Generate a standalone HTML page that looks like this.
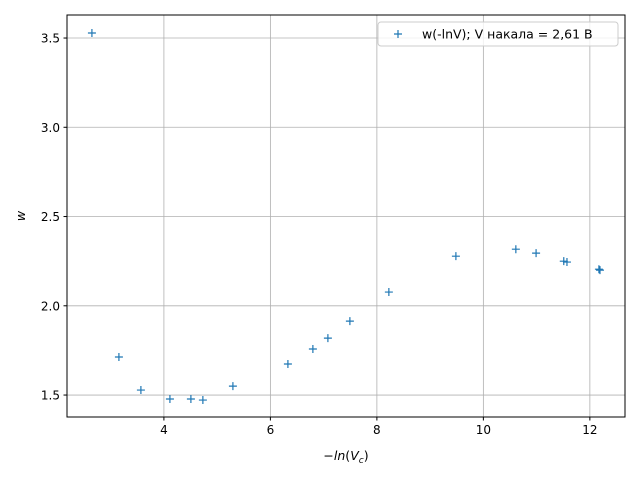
<!DOCTYPE html>
<html><head><meta charset="utf-8"><style>
body{margin:0;background:#fff;}
svg{display:block;font-family:"DejaVu Sans","Liberation Sans",sans-serif;}
</style></head><body>
<svg id="chart" width="640" height="480">
<rect x="0" y="0" width="640" height="480" fill="#fff"/>
<g id="grid"></g><g id="ticks"></g><g id="marks"></g>
<rect x="67" y="15" width="558" height="402" fill="none" stroke="#000" stroke-width="1"/>
<text x="346" y="460" font-size="12.5" text-anchor="middle">−<tspan font-style="italic">ln</tspan>(<tspan font-style="italic">V</tspan><tspan font-style="italic" font-size="9" dy="3">c</tspan><tspan dy="-3">)</tspan></text>
<text x="25" y="216" font-size="12.5" font-style="italic" text-anchor="middle" transform="rotate(-90 25 216)">w</text>
<g>
<rect x="378" y="22" width="240" height="24" rx="3" fill="#fff" fill-opacity="0.8" stroke="#ccc"/>
<path d="M394 34h8M398 30v8" stroke="#1f77b4" stroke-width="1.2"/>
<text x="422" y="38.5" font-size="12.5">w(-lnV); V накала = 2,61 В</text>
</g>
</svg>
<script>
const xValues=[2.648,3.155,3.568,4.113,4.507,4.732,5.296,6.329,6.798,7.080,7.493,8.225,9.484,10.61,10.99,11.51,11.57,12.17,12.19];
const yValues=[3.528,1.713,1.528,1.478,1.478,1.472,1.550,1.674,1.758,1.819,1.914,2.077,2.278,2.317,2.295,2.250,2.245,2.205,2.200];
const xTicks=[4,6,8,10,12];
const yTicks=[1.5,2.0,2.5,3.0,3.5];
const yTickLabels=["1.5","2.0","2.5","3.0","3.5"];
const X0=67,X1=625,Y0=15,Y1=417,xmin=2.18,xmax=12.66,ymin=1.377,ymax=3.629;
const sx=v=>X0+(v-xmin)/(xmax-xmin)*(X1-X0);
const sy=v=>Y1-(v-ymin)/(ymax-ymin)*(Y1-Y0);
const NS="http://www.w3.org/2000/svg";
const mk=(t,a,p)=>{const e=document.createElementNS(NS,t);for(const k in a)e.setAttribute(k,a[k]);p.appendChild(e);return e;};
const G=document.getElementById('grid'),T=document.getElementById('ticks'),M=document.getElementById('marks');
xTicks.forEach(v=>{const x=sx(v);
 const g=mk('line',{x1:x,x2:x,y1:Y0,y2:Y1,stroke:'#b0b0b0','stroke-width':0.8},G);
 
 
 mk('line',{x1:x,x2:x,y1:Y1,y2:Y1+3.5,stroke:'#000'},T);
 const t=mk('text',{x:x,y:Y1+17,'font-size':12,'text-anchor':'middle'},T);t.textContent=v;
 
 });
yTicks.forEach((v,i)=>{const y=sy(v);
 const g=mk('line',{x1:X0,x2:X1,y1:y,y2:y,stroke:'#b0b0b0','stroke-width':0.8},G);
 
 
 mk('line',{x1:X0-3.5,x2:X0,y1:y,y2:y,stroke:'#000'},T);
 const t=mk('text',{x:X0-7,y:y+4.5,'font-size':12,'text-anchor':'end'},T);t.textContent=yTickLabels[i];
 
 });
xValues.forEach((v,i)=>{const x=sx(v),y=sy(yValues[i]);
 const p=mk('path',{d:`M${x-4} ${y}h8M${x} ${y-4}v8`,stroke:'#1f77b4','stroke-width':1.2},M);
 
 });
</script>
</body></html>
